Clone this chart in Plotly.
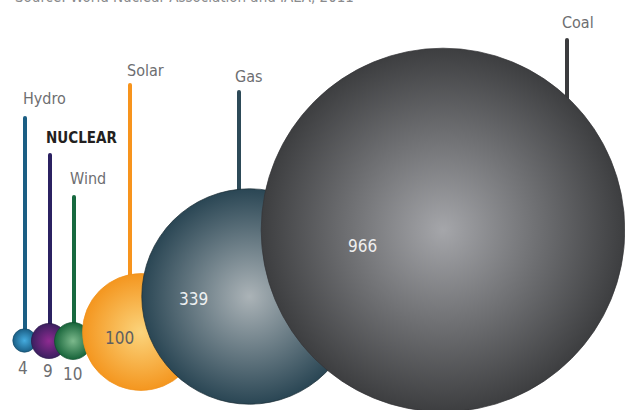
import plotly.graph_objects as go

# ---- data ----
sources = ["Hydro", "NUCLEAR", "Wind", "Solar", "Gas", "Coal"]
values = [4, 9, 10, 100, 339, 966]
source_note = "Source: World Nuclear Association and IAEA, 2011"

# ---- layout (pixel space: x 0..625, y 0..410 top-down) ----
bubble_x = [24.5, 49, 73, 141, 249.5, 443]
bubble_y = [340.5, 341, 341, 332, 296.5, 230]
stem_x = [25, 50, 74, 130, 239, 567]
stem_top = [118, 155, 197, 85, 92, 40]
label_x = [44, 81.5, 87.5, 145.5, 248, 578]
label_y = [98, 138, 178, 70, 76, 22]
value_x = [23, 47.5, 72.5, 119.5, 193, 362]
value_y = [368, 371, 374, 338, 299, 246]

# ---- styles ----
edge_colors = ["#1a5f86", "#3b1f60", "#17643a", "#f4961f", "#2a4654", "#3d3e40"]
center_colors = ["#45acdf", "#8f2b91", "#7cb98c", "#fbd47c", "#abb3b7", "#a5a6aa"]
stem_colors = ["#1b5e84", "#2b2161", "#17693f", "#f7941d", "#2d4a58", "#3b3c3e"]
outline_colors = ["#134a6a", "#2a1548", "#0f4e2c", "#f0901a", "#1a2c35", "#333436"]
label_colors = ["#6d6e71", "#231f20", "#6d6e71", "#6d6e71", "#6d6e71", "#6d6e71"]
value_colors = ["#6d6e71", "#6d6e71", "#6d6e71", "#5f5f60", "#eef0f1", "#eeeeef"]
FONT = "DejaVu Sans Condensed, DejaVu Sans, sans-serif"
K = 5.85  # radius px per sqrt(value)

fig = go.Figure()

# stems (behind bubbles)
for i in range(len(sources)):
    fig.add_trace(go.Scatter(
        x=[stem_x[i], stem_x[i]], y=[stem_top[i], bubble_y[i]],
        mode="lines", line=dict(color=stem_colors[i], width=4),
        hoverinfo="skip", showlegend=False))
    fig.add_trace(go.Scatter(
        x=[stem_x[i]], y=[stem_top[i]], mode="markers",
        marker=dict(color=stem_colors[i], size=4, line=dict(width=0)),
        hoverinfo="skip", showlegend=False))

# bubbles, left to right so later ones are on top
for i in range(len(sources)):
    fig.add_trace(go.Scatter(
        x=[bubble_x[i]], y=[bubble_y[i]], mode="markers",
        marker=dict(
            size=[values[i]], sizemode="area", sizeref=1 / (2 * K * K),
            color=edge_colors[i],
            gradient=dict(type="radial", color=center_colors[i]),
            line=dict(color=outline_colors[i], width=0.7),
            opacity=1),
        name=sources[i], showlegend=False,
        hovertemplate=sources[i] + ": %{text}<extra></extra>", text=[values[i]]))

annotations = []
for i in range(len(sources)):
    bold = sources[i] == "NUCLEAR"
    annotations.append(dict(
        x=label_x[i], y=label_y[i], xref="x", yref="y",
        text=("<b>" + sources[i] + "</b>") if bold else sources[i],
        showarrow=False, xanchor="center", yanchor="middle",
        font=dict(family=FONT, size=15 if bold else 16, color=label_colors[i])))
    annotations.append(dict(
        x=value_x[i], y=value_y[i], xref="x", yref="y", text=str(values[i]),
        showarrow=False, xanchor="center", yanchor="middle",
        font=dict(family=FONT, size=17, color=value_colors[i])))

annotations.append(dict(
    x=13, y=8, xref="x", yref="y", text=source_note, showarrow=False,
    xanchor="left", yanchor="bottom",
    font=dict(family=FONT, size=15, color="#8a8b8d")))

fig.update_layout(
    width=625, height=410,
    margin=dict(l=0, r=0, t=0, b=0),
    paper_bgcolor="white", plot_bgcolor="white",
    xaxis=dict(range=[0, 625], visible=False, fixedrange=True),
    yaxis=dict(range=[410, 0], visible=False, fixedrange=True),
    annotations=annotations,
)

fig.write_html("out.html", config={"displayModeBar": False},
               post_script="document.body.style.margin='0';document.body.style.overflow='hidden';")
